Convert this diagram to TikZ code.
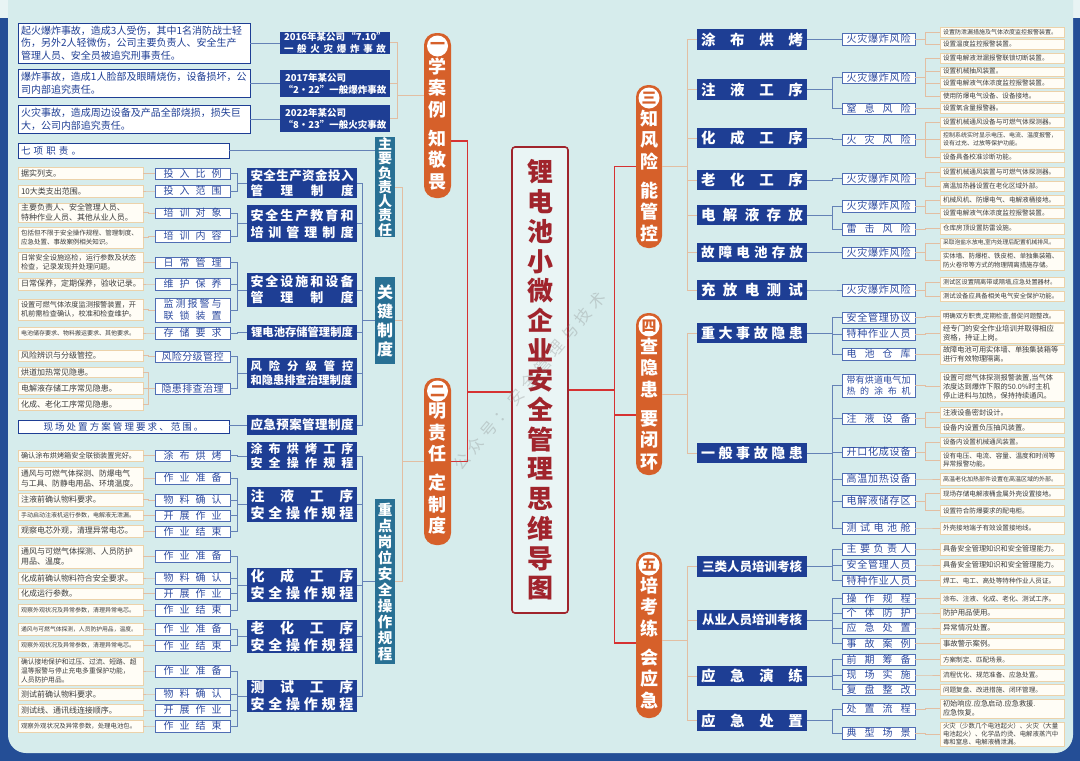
\documentclass[tikz,border=0pt]{standalone}
\usepackage{fontspec}
\setmainfont{Noto Sans CJK SC}
\usetikzlibrary{positioning}

\definecolor{navy}{RGB}{30,62,148}
\definecolor{framec}{RGB}{36,78,150}
\definecolor{panel}{RGB}{214,236,236}
\definecolor{outer}{RGB}{232,244,244}
\definecolor{tealc}{RGB}{40,112,148}
\definecolor{capo}{RGB}{214,96,42}
\definecolor{redl}{RGB}{214,50,50}
\definecolor{titler}{RGB}{160,36,44}
\definecolor{tanl}{RGB}{226,190,162}
\definecolor{blul}{RGB}{100,130,182}
\definecolor{labb}{RGB}{80,110,180}
\definecolor{labt}{RGB}{45,75,160}
\definecolor{descb}{RGB}{236,210,170}
\definecolor{cream}{RGB}{255,253,246}
\definecolor{desct}{RGB}{60,60,60}

% spread a line of text over a fixed width
\newcommand\spr[2]{\makebox[#1][s]{\spaceskip=0pt plus 1fil\relax#2}}

\begin{document}
\begin{tikzpicture}[x=1pt, y=-1pt,
  tline/.style={draw=tanl, line width=0.9pt},
  bline/.style={draw=blul, line width=0.9pt},
  redline/.style={draw=redl, line width=1.2pt},
  capsule/.style={fill=capo, rounded corners=12pt, minimum width=27pt, inner sep=0pt},
  num/.style={circle, fill=white, minimum size=21pt, inner sep=0pt, text=capo, font=\bfseries\fontsize{15}{15}\selectfont},
  captext/.style={text=white, align=center, inner sep=0pt, font=\bfseries\fontsize{18}{21.5}\selectfont},
  titlebox/.style={draw=titler, line width=1.6pt, fill=panel!50!white, rounded corners=3pt, minimum width=56pt, minimum height=466pt, align=center, text=titler, inner sep=0pt, font=\bfseries\fontsize{26}{29.7}\selectfont},
  duty/.style={fill=tealc, text=white, align=center, minimum width=20pt, inner sep=0pt, font=\bfseries\fontsize{14}{14.3}\selectfont},
  acc/.style={draw=navy, fill=white, line width=0.9pt, text=navy, align=left, text width=226pt, inner xsep=3pt, inner ysep=0pt, font=\fontsize{10}{12.6}\selectfont},
  accbox/.style={fill=navy, text=white, align=center, minimum width=110pt, inner sep=0pt, font=\bfseries\fontsize{9.5}{12}\selectfont},
  wide/.style={draw=navy, fill=white, line width=0.8pt, text=navy, text width=205pt, inner xsep=3pt, inner ysep=0pt, align=left, font=\fontsize{9.5}{11}\selectfont},
  lsys/.style={fill=navy, text=white, align=center, minimum width=110pt, inner sep=0pt, font=\bfseries\fontsize{13}{16}\selectfont},
  rsys/.style={lsys, font=\bfseries\fontsize{14.5}{16}\selectfont},
  llab/.style={draw=labb, fill=white, line width=0.8pt, text=labt, minimum width=75pt, minimum height=11.5pt, inner sep=0pt, align=center, font=\fontsize{10}{12}\selectfont},
  rlab/.style={llab, minimum width=73pt},
  ldesc/.style={draw=descb, fill=cream, line width=0.8pt, text=desct, text width=119pt, inner xsep=3pt, inner ysep=0pt, align=left, minimum height=12pt, font=\fontsize{8}{10}\selectfont},
  rdesc/.style={ldesc, text width=118pt, minimum height=10pt, font=\fontsize{6.6}{8.2}\selectfont},
  tinyf/.style={font=\fontsize{6}{7.8}\selectfont},
  wmark/.style={text=gray, opacity=0.3, inner sep=0pt, font=\fontsize{16}{16}\selectfont}
]
\useasboundingbox (0,0) rectangle (1080,761);
\fill[outer] (0,0) rectangle (1080,761);
\fill[framec] (0,18) rectangle (1080,761);
\fill[panel, rounded corners=18] (8,-40) rectangle (1073,753);

% centre
\node[titlebox] (title) at (540,380) {锂\\电\\池\\小\\微\\企\\业\\安\\全\\管\\理\\思\\维\\导\\图};

% capsules
\node[capsule, minimum height=165] (c1) at (437.5,115.5) {};
\node[capsule, minimum height=167] (c2) at (437.5,461.5) {};
\node[capsule, minimum width=26, minimum height=163] (c3) at (649,166.5) {};
\node[capsule, minimum width=26, minimum height=162] (c4) at (649,394) {};
\node[capsule, minimum width=26, minimum height=166] (c5) at (649,635) {};
\node[num, below=2.5pt of c1.north] (n1) {一};
\node[num, below=2.5pt of c2.north] (n2) {二};
\node[num, below=2.5pt of c3.north] (n3) {三};
\node[num, below=2.5pt of c4.north] (n4) {四};
\node[num, below=2.5pt of c5.north] (n5) {五};
\node[captext, below=1pt of n1] (w1) {学\\案\\例\\[7.5pt]知\\敬\\畏};
\node[captext, below=1pt of n2] (w2) {明\\责\\任\\[7.5pt]定\\制\\度};
\node[captext, below=1pt of n3] (w3) {知\\风\\险\\[7.5pt]能\\管\\控};
\node[captext, below=1pt of n4] (w4) {查\\隐\\患\\[7.5pt]要\\闭\\环};
\node[captext, below=1pt of n5] (w5) {培\\考\\练\\[7.5pt]会\\应\\急};

\draw[redline] ([yshift=-12]title.west) -- ++(-44,0) coordinate (lj) |- ([yshift=-25.5]c1.east);
\draw[redline] (lj) |- (c2.east);
\draw[redline] ([yshift=-10]title.east) -- ++(46,0) coordinate (rj) |- (c3.west);
\draw[redline] (rj) |- ([yshift=-21]c4.west);
\draw[redline] (rj) |- ([yshift=-8]c5.west);

% branch one: cases
\node[acc, minimum height=40] (a1) at (134,43) {起火爆炸事故，造成3人受伤，其中1名消防战士轻\\伤，另外2人轻微伤，公司主要负责人、安全生产\\管理人员、安全员被追究刑事责任。};
\node[acc, minimum height=28] (a2) at (134,83) {爆炸事故，造成1人脸部及眼睛烧伤，设备损坏，公\\司内部追究责任。};
\node[acc, minimum height=28] (a3) at (134,119) {火灾事故，造成周边设备及产品全部烧损，损失巨\\大，公司内部追究责任。};
\node[accbox, minimum height=22] (k1) at (335,42.5) {\spr{102pt}{2016年某公司 “7.10”}\\\spr{102pt}{一 般 火 灾 爆 炸 事 故}};
\node[accbox, minimum height=27] (k2) at (335,83.5) {\makebox[100pt][l]{2017年某公司}\\“2•22”一般爆炸事故};
\node[accbox, minimum height=27] (k3) at (335,118.5) {\makebox[100pt][l]{2022年某公司}\\“8•23”一般火灾事故};
\foreach \i in {1,2,3} {
  \draw[bline] (a\i.east) -- (a\i.east -| k\i.west);
  \draw[tline] ([yshift=20]c1.west) -- ++(-26,0) |- (k\i.east);
}

% branch two: duties and rules
\node[duty, minimum height=100] (d1) at (385,187) {主\\要\\负\\责\\人\\责\\任};
\node[duty, minimum height=87, font=\bfseries\fontsize{16}{19}\selectfont] (d2) at (385,320.5) {关\\键\\制\\度};
\node[duty, minimum height=165, font=\bfseries\fontsize{14.5}{16}\selectfont] (d3) at (385,581.5) {重\\点\\岗\\位\\安\\全\\操\\作\\规\\程};
\foreach \i in {1,2,3}
  \draw[tline] (c2.west) -- ++(-21,0) |- (d\i.east);

\node[wide, minimum height=15] (q0) at (123.5,150.5) {七 项 职 责 。};
\draw[bline] (q0.east) -- (q0.east -| d1.west);

\node[lsys, minimum height=30, font=\bfseries\fontsize{12.5}{15}\selectfont] (s1) at (302,183) {\spr{103pt}{安 全 生 产 资 金 投 入}\\\spr{103pt}{管 理 制 度}};
\node[lsys, minimum height=37, font=\bfseries\fontsize{13}{17}\selectfont] (s2) at (302,223.5) {\spr{103pt}{安 全 生 产 教 育 和}\\\spr{103pt}{培 训 管 理 制 度}};
\node[lsys, minimum height=34] (s3) at (302,290) {\spr{103pt}{安 全 设 施 和 设 备}\\\spr{103pt}{管 理 制 度}};
\node[lsys, minimum height=15, font=\bfseries\fontsize{11.3}{13}\selectfont] (s4) at (302,332.5) {锂电池存储管理制度};
\node[lsys, minimum height=30, font=\bfseries\fontsize{11.3}{14}\selectfont] (s5) at (302,373) {\spr{103pt}{风 险 分 级 管 控}\\\spr{103pt}{和隐患排查治理制度}};
\node[lsys, minimum height=20, font=\bfseries\fontsize{12.5}{14}\selectfont] (s6) at (302,425) {\spr{103pt}{应 急 预 案 管 理 制 度}};
\node[lsys, minimum height=28, font=\bfseries\fontsize{12}{13.5}\selectfont] (s7) at (302,456) {\spr{103pt}{涂 布 烘 烤 工 序}\\\spr{103pt}{安 全 操 作 规 程}};
\node[lsys, minimum height=35, font=\bfseries\fontsize{14}{17}\selectfont] (s8) at (302,504.5) {\spr{103pt}{注 液 工 序}\\\spr{103pt}{安 全 操 作 规 程}};
\node[lsys, minimum height=34, font=\bfseries\fontsize{14}{17}\selectfont] (s9) at (302,585) {\spr{103pt}{化 成 工 序}\\\spr{103pt}{安 全 操 作 规 程}};
\node[lsys, minimum height=33, font=\bfseries\fontsize{14}{17}\selectfont] (s10) at (302,636.5) {\spr{103pt}{老 化 工 序}\\\spr{103pt}{安 全 操 作 规 程}};
\node[lsys, minimum height=32, font=\bfseries\fontsize{14}{17}\selectfont] (s11) at (302,696) {\spr{103pt}{测 试 工 序}\\\spr{103pt}{安 全 操 作 规 程}};
\foreach \i in {1,...,6}
  \draw[bline] (d2.west) -- ++(-12,0) |- (s\i.east);
\foreach \i in {7,...,11}
  \draw[bline] (d3.west) -- ++(-12,0) |- (s\i.east);

\node[llab, minimum height=11] (l1) at (192.5,173.5) {\spr{58pt}{投 入 比 例}};
\node[llab, minimum height=12] (l2) at (192.5,191) {\spr{58pt}{投 入 范 围}};
\node[llab, minimum height=10] (l3) at (192.5,213) {\spr{58pt}{培 训 对 象}};
\node[llab, minimum height=12] (l4) at (192.5,236) {\spr{58pt}{培 训 内 容}};
\node[llab, minimum height=11] (l5) at (192.5,262.5) {\spr{58pt}{日 常 管 理}};
\node[llab, minimum height=12] (l6) at (192.5,284) {\spr{58pt}{维 护 保 养}};
\node[llab, minimum height=24] (l7) at (192.5,310) {\spr{58pt}{监 测 报 警 与}\\\spr{58pt}{联 锁 装 置}};
\node[llab, minimum height=12] (l8) at (192.5,333) {\spr{58pt}{存 储 要 求}};
\node[llab, minimum height=11] (l9) at (192.5,356.5) {\spr{62pt}{风 险 分 级 管 控}};
\node[llab, minimum height=11] (l10) at (192.5,388.5) {\spr{62pt}{隐 患 排 查 治 理}};
\node[llab, minimum height=11] (l11) at (192.5,455.5) {\spr{58pt}{涂 布 烘 烤}};
\node[llab, minimum height=12] (l12) at (192.5,478) {\spr{58pt}{作 业 准 备}};
\node[llab, minimum height=12] (l13) at (192.5,500) {\spr{58pt}{物 料 确 认}};
\node[llab, minimum height=11] (l14) at (192.5,515.5) {\spr{58pt}{开 展 作 业}};
\node[llab, minimum height=11] (l15) at (192.5,531.5) {\spr{58pt}{作 业 结 束}};
\node[llab, minimum height=12] (l16) at (192.5,556) {\spr{58pt}{作 业 准 备}};
\node[llab, minimum height=12] (l17) at (192.5,578) {\spr{58pt}{物 料 确 认}};
\node[llab, minimum height=11] (l18) at (192.5,593.5) {\spr{58pt}{开 展 作 业}};
\node[llab, minimum height=12] (l19) at (192.5,610) {\spr{58pt}{作 业 结 束}};
\node[llab, minimum height=12] (l20) at (192.5,629) {\spr{58pt}{作 业 准 备}};
\node[llab, minimum height=11] (l21) at (192.5,645.5) {\spr{58pt}{作 业 结 束}};
\node[llab, minimum height=12] (l22) at (192.5,671) {\spr{58pt}{作 业 准 备}};
\node[llab, minimum height=12] (l23) at (192.5,694) {\spr{58pt}{物 料 确 认}};
\node[llab, minimum height=12] (l24) at (192.5,710) {\spr{58pt}{开 展 作 业}};
\node[llab, minimum height=12] (l25) at (192.5,726) {\spr{58pt}{作 业 结 束}};
\foreach \a/\b in {s1/l1,s1/l2,s2/l3,s2/l4,s3/l5,s3/l6,s3/l7,s4/l8,s5/l9,s5/l10,
  s7/l11,s8/l12,s8/l13,s8/l14,s8/l15,s9/l16,s9/l17,s9/l18,s9/l19,s10/l20,s10/l21,
  s11/l22,s11/l23,s11/l24,s11/l25}
  \draw[bline] (\a.west) -- ++(-9,0) |- (\b.east);

\node[ldesc] (e1) at (80.5,173) {据实列支。};
\node[ldesc] (e2) at (80.5,191) {10大类支出范围。};
\node[ldesc, minimum height=19] (e3) at (80.5,212.5) {主要负责人、安全管理人员、\\特种作业人员、其他从业人员。};
\node[ldesc, minimum height=21, font=\fontsize{6.5}{8.5}\selectfont] (e4) at (80.5,237.5) {包括但不限于安全操作规程、管理制度、\\应急处置、事故案例相关知识。};
\node[ldesc, minimum height=20, font=\fontsize{7.2}{9}\selectfont] (e5) at (80.5,262) {日常安全设施巡检，运行参数及状态\\检查，记录发现并处理问题。};
\node[ldesc] (e6) at (80.5,284) {日常保养，定期保养，验收记录。};
\node[ldesc, minimum height=21, font=\fontsize{7.2}{9}\selectfont] (e7) at (80.5,309.5) {设置可燃气体浓度监测报警装置，开\\机前需检查确认，校准和检查维护。};
\node[ldesc, tinyf] (e8) at (80.5,333) {电池储存要求、物料搬运要求、其他要求。};
\node[ldesc, minimum height=11] (e9) at (80.5,355.5) {风险辨识与分级管控。};
\node[ldesc, minimum height=10] (e10) at (80.5,372) {烘道加热常见隐患。};
\node[ldesc] (e11) at (80.5,388) {电解液存储工序常见隐患。};
\node[ldesc] (e12) at (80.5,404) {化成、老化工序常见隐患。};
\node[wide, minimum height=13, align=center] (q1) at (123.5,426.5) {\spr{160pt}{现 场 处 置 方 案 管 理 要 求 、 范 围 。}};
\draw[bline] (s6.west) -- (s6.west -| q1.east);
\node[ldesc, minimum height=11, font=\fontsize{7.2}{9}\selectfont] (e13) at (80.5,455.5) {确认涂布烘烤箱安全联锁装置完好。};
\node[ldesc, minimum height=23, font=\fontsize{7.8}{10}\selectfont] (e14) at (80.5,478.5) {通风与可燃气体探测、防爆电气\\与工具、防静电用品、环境温度。};
\node[ldesc, minimum height=13] (e15) at (80.5,499.5) {注液前确认物料要求。};
\node[ldesc, minimum height=10, tinyf] (e16) at (80.5,515) {手动启动注液机运行参数，电解液无泄漏。};
\node[ldesc] (e17) at (80.5,531) {观察电芯外观，清理异常电芯。};
\node[ldesc, minimum height=23] (e18) at (80.5,556.5) {通风与可燃气体探测、人员防护\\用品、温度。};
\node[ldesc] (e19) at (80.5,578) {化成前确认物料符合安全要求。};
\node[ldesc, minimum height=11] (e20) at (80.5,593.5) {化成运行参数。};
\node[ldesc, tinyf] (e21) at (80.5,610) {观察外观状况及异常参数，清理异常电芯。};
\node[ldesc, font=\fontsize{5.8}{7.5}\selectfont] (e22) at (80.5,629) {通风与可燃气体探测，人员防护用品，温度。};
\node[ldesc, minimum height=11, tinyf] (e23) at (80.5,645.5) {观察外观状况及异常参数，清理异常电芯。};
\node[ldesc, minimum height=28, font=\fontsize{6.8}{8.6}\selectfont] (e24) at (80.5,671) {确认接地保护和过压、过流、短路、超\\温等报警与停止充电多重保护功能，\\人员防护用品。};
\node[ldesc] (e25) at (80.5,694) {测试前确认物料要求。};
\node[ldesc] (e26) at (80.5,710) {测试线、通讯线连接顺序。};
\node[ldesc, font=\fontsize{6.4}{8}\selectfont] (e27) at (80.5,726) {观察外观状况及异常参数，处理电池包。};
\foreach \a/\b in {l1/e1,l2/e2,l3/e3,l4/e4,l5/e5,l6/e6,l7/e7,l8/e8,l9/e9,l10/e10,l10/e11,l10/e12,
  l11/e13,l12/e14,l13/e15,l14/e16,l15/e17,l16/e18,l17/e19,l18/e20,l19/e21,l20/e22,l21/e23,
  l22/e24,l23/e25,l24/e26,l25/e27}
  \draw[tline] (\a.west) -- ++(-6,0) |- (\b.east);

% branch three to five
\node[rsys, minimum height=21] (p1) at (752,39.5) {\spr{102pt}{涂 布 烘 烤}};
\node[rsys, minimum height=21] (p2) at (752,89.5) {\spr{102pt}{注 液 工 序}};
\node[rsys, minimum height=20] (p3) at (752,138) {\spr{102pt}{化 成 工 序}};
\node[rsys, minimum height=20] (p4) at (752,180) {\spr{102pt}{老 化 工 序}};
\node[rsys, minimum height=20] (p5) at (752,215) {\spr{102pt}{电 解 液 存 放}};
\node[rsys, minimum height=19, font=\bfseries\fontsize{13.5}{15}\selectfont] (p6) at (752,252.5) {\spr{102pt}{故 障 电 池 存 放}};
\node[rsys, minimum height=20] (p7) at (752,290) {\spr{102pt}{充 放 电 测 试}};
\node[rsys, minimum height=20, font=\bfseries\fontsize{14}{15}\selectfont] (p8) at (752,333) {\spr{102pt}{重 大 事 故 隐 患}};
\node[rsys, minimum height=20, font=\bfseries\fontsize{14}{15}\selectfont] (p9) at (752,453) {\spr{102pt}{一 般 事 故 隐 患}};
\node[rsys, minimum height=21, font=\bfseries\fontsize{12.5}{14}\selectfont] (p10) at (752,566.5) {三类人员培训考核};
\node[rsys, minimum height=20, font=\bfseries\fontsize{12.5}{14}\selectfont] (p11) at (752,620) {从业人员培训考核};
\node[rsys, minimum height=20] (p12) at (752,676) {\spr{102pt}{应 急 演 练}};
\node[rsys, minimum height=21] (p13) at (752,720.5) {\spr{102pt}{应 急 处 置}};
\foreach \i in {1,...,7}
  \draw[tline] (c3.east) -- ++(25,0) |- (p\i.west);
\foreach \i in {8,9}
  \draw[tline] (c4.east) -- ++(25,0) |- (p\i.west);
\foreach \i in {10,...,13}
  \draw[tline] ([yshift=-5]c5.east) -- ++(25,0) |- (p\i.west);

\node[rlab, minimum height=12] (m1) at (878.5,39) {\spr{64pt}{火 灾 爆 炸 风 险}};
\node[rlab, minimum height=11] (m2) at (878.5,77.5) {\spr{64pt}{火 灾 爆 炸 风 险}};
\node[rlab, minimum height=11] (m3) at (878.5,108.5) {\spr{64pt}{窒 息 风 险}};
\node[rlab, minimum height=11] (m4) at (878.5,139.5) {\spr{64pt}{火 灾 风 险}};
\node[rlab, minimum height=11] (m5) at (878.5,178.5) {\spr{64pt}{火 灾 爆 炸 风 险}};
\node[rlab, minimum height=12] (m6) at (878.5,206) {\spr{64pt}{火 灾 爆 炸 风 险}};
\node[rlab, minimum height=12] (m7) at (878.5,229) {\spr{64pt}{雷 击 风 险}};
\node[rlab, minimum height=11] (m8) at (878.5,252.5) {\spr{64pt}{火 灾 爆 炸 风 险}};
\node[rlab, minimum height=12] (m9) at (878.5,290) {\spr{64pt}{火 灾 爆 炸 风 险}};
\node[rlab, minimum height=11] (m10) at (878.5,317.5) {\spr{64pt}{安 全 管 理 协 议}};
\node[rlab, minimum height=12] (m11) at (878.5,334) {\spr{64pt}{特 种 作 业 人 员}};
\node[rlab, minimum height=12] (m12) at (878.5,354) {\spr{64pt}{电 池 仓 库}};
\node[rlab, minimum height=23, font=\fontsize{9}{11}\selectfont] (m13) at (878.5,385.5) {\spr{64pt}{带 有 烘 道 电 气 加}\\\spr{64pt}{热 的 涂 布 机}};
\node[rlab, minimum height=11] (m14) at (878.5,418.5) {\spr{64pt}{注 液 设 备}};
\node[rlab, minimum height=10] (m15) at (878.5,452) {\spr{64pt}{开 口 化 成 设 备}};
\node[rlab, minimum height=12] (m16) at (878.5,479) {\spr{64pt}{高 温 加 热 设 备}};
\node[rlab, minimum height=12] (m17) at (878.5,501) {\spr{64pt}{电 解 液 储 存 区}};
\node[rlab, minimum height=12] (m18) at (878.5,528) {\spr{64pt}{测 试 电 池 舱}};
\node[rlab, minimum height=12] (m19) at (878.5,549) {\spr{64pt}{主 要 负 责 人}};
\node[rlab, minimum height=12] (m20) at (878.5,565) {\spr{64pt}{安 全 管 理 人 员}};
\node[rlab, minimum height=11] (m21) at (878.5,580.5) {\spr{64pt}{特 种 作 业 人 员}};
\node[rlab, minimum height=11] (m22) at (878.5,598.5) {\spr{64pt}{操 作 规 程}};
\node[rlab, minimum height=10] (m23) at (878.5,613) {\spr{64pt}{个 体 防 护}};
\node[rlab, minimum height=12] (m24) at (878.5,628) {\spr{64pt}{应 急 处 置}};
\node[rlab, minimum height=11] (m25) at (878.5,643.5) {\spr{64pt}{事 故 案 例}};
\node[rlab, minimum height=11] (m26) at (878.5,659.5) {\spr{64pt}{前 期 筹 备}};
\node[rlab, minimum height=12] (m27) at (878.5,675) {\spr{64pt}{现 场 实 施}};
\node[rlab, minimum height=11] (m28) at (878.5,689.5) {\spr{64pt}{复 盘 整 改}};
\node[rlab, minimum height=12] (m29) at (878.5,709) {\spr{64pt}{处 置 流 程}};
\node[rlab, minimum height=12] (m30) at (878.5,733) {\spr{64pt}{典 型 场 景}};
\foreach \a/\b in {p1/m1,p2/m2,p2/m3,p3/m4,p4/m5,p5/m6,p5/m7,p6/m8,p7/m9,p8/m10,p8/m11,p8/m12,
  p9/m13,p9/m14,p9/m15,p9/m16,p9/m17,p9/m18,p10/m19,p10/m20,p10/m21,p11/m22,p11/m23,p11/m24,p11/m25,
  p12/m26,p12/m27,p12/m28,p13/m29,p13/m30}
  \draw[bline] (\a.east) -- ++(25,0) |- (\b.west);

\node[rdesc, tinyf] (f1) at (1002,32) {设置防泄漏措施及气体浓度监控报警装置。};
\node[rdesc] (f2) at (1002,44) {设置温度监控报警装置。};
\node[rdesc] (f3) at (1002,58) {设置电解液泄漏报警联锁切断装置。};
\node[rdesc, minimum height=9] (f4) at (1002,71.5) {设置机械抽风装置。};
\node[rdesc] (f5) at (1002,83) {设置电解液气体浓度监控报警装置。};
\node[rdesc] (f6) at (1002,96) {使用防爆电气设备、设备接地。};
\node[rdesc] (f7) at (1002,108) {设置氧含量报警器。};
\node[rdesc] (f8) at (1002,122) {设置机械通风设备与可燃气体探测器。};
\node[rdesc, minimum height=19, tinyf] (f9) at (1002,139.5) {控制系统实时显示电压、电流、温度报警，\\设有过充、过放等保护功能。};
\node[rdesc] (f10) at (1002,157) {设备具备校准诊断功能。};
\node[rdesc] (f11) at (1002,172) {设置机械通风装置与可燃气体探测器。};
\node[rdesc] (f12) at (1002,186) {高温加热器设置在老化区域外部。};
\node[rdesc] (f13) at (1002,200) {机械风机、防爆电气、电解液桶接地。};
\node[rdesc] (f14) at (1002,213) {设置电解液气体浓度监控报警装置。};
\node[rdesc, minimum height=11] (f15) at (1002,228.5) {仓库房顶设置防雷设施。};
\node[rdesc, font=\fontsize{5.8}{7.5}\selectfont] (f16) at (1002,243) {采取泡盐水放电,室内处理后配置机械排风。};
\node[rdesc, minimum height=19, font=\fontsize{6.4}{8.2}\selectfont] (f17) at (1002,260.5) {实体墙、防爆柜、铁皮柜、单独集装箱、\\防火卷帘等方式的物理隔离措施存储。};
\node[rdesc, font=\fontsize{6.2}{8}\selectfont] (f18) at (1002,282) {测试区设置隔离带或隔墙,应急处置器材。};
\node[rdesc, font=\fontsize{6.4}{8}\selectfont] (f19) at (1002,296) {测试设备应具备相关电气安全保护功能。};
\node[rdesc, minimum height=12, font=\fontsize{6.4}{8}\selectfont] (f20) at (1002,316) {明确双方职责,定期检查,督促问题整改。};
\node[rdesc, minimum height=20, font=\fontsize{7.4}{9.2}\selectfont] (f21) at (1002,333) {经专门的安全作业培训并取得相应\\资格，持证上岗。};
\node[rdesc, minimum height=19, font=\fontsize{7.2}{9}\selectfont] (f22) at (1002,354.5) {故障电池可用实体墙、单独集装箱等\\进行有效物理隔离。};
\node[rdesc, minimum height=29, font=\fontsize{7.2}{9}\selectfont] (f23) at (1002,386.5) {设置可燃气体探测报警装置,当气体\\浓度达到爆炸下限的50.0\%时主机\\停止进料与加热，保持持续通风。};
\node[rdesc, minimum height=11, font=\fontsize{7.2}{9}\selectfont] (f24) at (1002,412.5) {注液设备密封设计。};
\node[rdesc, minimum height=11, font=\fontsize{7.2}{9}\selectfont] (f25) at (1002,427.5) {设备内设置负压抽风装置。};
\node[rdesc] (f26) at (1002,442) {设备内设置机械通风装置。};
\node[rdesc, minimum height=18] (f27) at (1002,460) {设有电压、电流、容量、温度和时间等\\异常报警功能。};
\node[rdesc, minimum height=12, tinyf] (f28) at (1002,479) {高温老化加热部件设置在高温区域的外部。};
\node[rdesc, minimum height=11] (f29) at (1002,493.5) {现场存储电解液桶金属外壳设置接地。};
\node[rdesc, minimum height=11] (f30) at (1002,510.5) {设置符合防爆要求的配电柜。};
\node[rdesc, minimum height=12] (f31) at (1002,528) {外壳接地端子有效设置接地线。};
\node[rdesc, minimum height=12, font=\fontsize{7.2}{9}\selectfont] (f32) at (1002,549) {具备安全管理知识和安全管理能力。};
\node[rdesc, minimum height=12, font=\fontsize{7.2}{9}\selectfont] (f33) at (1002,565) {具备安全管理知识和安全管理能力。};
\node[rdesc, minimum height=11] (f34) at (1002,580.5) {焊工、电工、高处等特种作业人员证。};
\node[rdesc, minimum height=11] (f35) at (1002,598.5) {涂布、注液、化成、老化、测试工序。};
\node[rdesc, minimum height=10, font=\fontsize{7.4}{9}\selectfont] (f36) at (1002,613) {防护用品使用。};
\node[rdesc, minimum height=12, font=\fontsize{7.4}{9}\selectfont] (f37) at (1002,628) {异常情况处置。};
\node[rdesc, minimum height=11, font=\fontsize{7.4}{9}\selectfont] (f38) at (1002,643.5) {事故警示案例。};
\node[rdesc, minimum height=11] (f39) at (1002,659.5) {方案制定、匹配场景。};
\node[rdesc, minimum height=12] (f40) at (1002,675) {流程优化、规范准备、应急处置。};
\node[rdesc, minimum height=11] (f41) at (1002,689.5) {问题复盘、改进措施、闭环管理。};
\node[rdesc, minimum height=19, font=\fontsize{7.2}{9}\selectfont] (f42) at (1002,708.5) {初始响应.应急启动.应急救援.\\应急恢复。};
\node[rdesc, minimum height=24, font=\fontsize{6.4}{7.8}\selectfont] (f43) at (1002,734) {火灾（少数几个电池起火）、火灾（大量\\电池起火）、化学品灼烫、电解液蒸汽中\\毒和窒息、电解液桶泄漏。};
\foreach \a/\b in {m1/f1,m1/f2,m2/f3,m2/f4,m2/f5,m2/f6,m3/f7,m4/f8,m4/f9,m4/f10,m5/f11,m5/f12,
  m6/f13,m6/f14,m7/f15,m8/f16,m8/f17,m9/f18,m9/f19,m10/f20,m11/f21,m12/f22,m13/f23,m14/f24,m14/f25,
  m15/f26,m15/f27,m16/f28,m17/f29,m17/f30,m18/f31,m19/f32,m20/f33,m21/f34,m22/f35,m23/f36,m24/f37,
  m25/f38,m26/f39,m27/f40,m28/f41,m29/f42,m30/f43}
  \draw[tline] (\a.east) -- ++(10,0) |- (\b.west);

% faint watermark across the title, as in the poster
\node[wmark, rotate=50] (wm) at (529,381) {\spr{226pt}{公 众 号 ： 安 全 管 理 与 技 术}};
\end{tikzpicture}
\end{document}
